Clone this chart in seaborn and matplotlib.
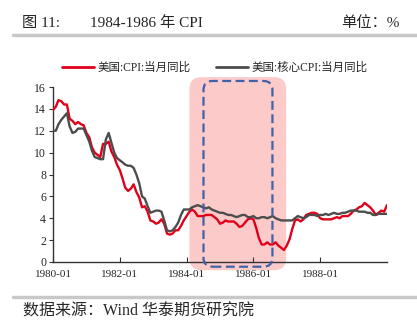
import numpy as np
import pandas as pd
import matplotlib
matplotlib.use('Agg')
import matplotlib.pyplot as plt
import matplotlib.dates as mdates
import seaborn as sns
from matplotlib.patches import FancyBboxPatch
from matplotlib.lines import Line2D
from matplotlib.transforms import IdentityTransform

sns.set_theme(style='white')
plt.rcParams['font.family'] = ['Liberation Serif', 'Noto Sans CJK SC', 'DejaVu Sans']

# ---------------- data ----------------
start_month = '1980-01'
series_names = ['美国:CPI:当月同比', '美国:核心CPI:当月同比']
cpi = [13.9, 14.2, 14.8, 14.7, 14.4, 14.4, 13.1, 12.9, 12.6, 12.8, 12.6, 12.5,
       11.8, 11.4, 10.5, 10.0, 9.8, 9.6, 10.8, 10.8, 11.0, 10.1, 9.6, 8.9,
       8.4, 7.6, 6.8, 6.5, 6.7, 7.1, 6.4, 5.9, 5.0, 5.1, 4.6, 3.8,
       3.7, 3.5, 3.6, 3.9, 3.5, 2.6, 2.5, 2.6, 2.9, 2.9, 3.3, 3.8,
       4.2, 4.6, 4.8, 4.6, 4.2, 4.2, 4.2, 4.3, 4.3, 4.3, 4.1, 3.9,
       3.5, 3.6, 3.8, 3.7, 3.7, 3.7, 3.5, 3.2, 3.3, 3.6, 3.9, 4.0,
       3.9, 3.1, 2.2, 1.6, 1.6, 1.8, 1.6, 1.6, 1.8, 1.5, 1.3, 1.1,
       1.5, 2.1, 3.0, 3.8, 3.9, 3.7, 3.9, 4.3, 4.4, 4.5, 4.5, 4.4,
       4.0, 3.9, 3.9, 3.9, 3.9, 4.0, 4.1, 4.0, 4.2, 4.2, 4.2, 4.4,
       4.7, 4.8, 5.0, 5.1, 5.4, 5.2, 5.0, 4.7, 4.3, 4.5, 4.7, 4.6,
       5.2]
core = [12.0, 12.0, 12.6, 13.0, 13.3, 13.6, 12.4, 11.8, 11.9, 12.2, 12.2, 12.2,
        11.6, 11.0, 10.2, 9.6, 9.5, 9.4, 9.4, 11.2, 11.8, 10.9, 10.0, 9.5,
        9.3, 9.1, 8.9, 8.8, 8.8, 8.6, 8.0, 7.2, 6.0, 5.8, 5.1, 4.5,
        4.6, 4.7, 4.7, 4.6, 3.8, 2.9, 2.8, 2.9, 3.2, 3.6, 4.3, 4.8,
        4.8, 4.8, 5.0, 5.1, 5.2, 5.1, 5.0, 4.9, 5.0, 4.8, 4.7, 4.6,
        4.5, 4.5, 4.4, 4.3, 4.3, 4.2, 4.1, 4.2, 4.3, 4.3, 4.1, 4.1,
        4.2, 4.0, 4.0, 4.1, 4.1, 4.0, 4.1, 4.2, 4.0, 3.9, 3.8, 3.8,
        3.8, 3.8, 3.8, 4.0, 4.2, 4.1, 4.0, 4.1, 4.3, 4.3, 4.3, 4.2,
        4.3, 4.3, 4.4, 4.3, 4.4, 4.5, 4.4, 4.4, 4.5, 4.5, 4.6, 4.7,
        4.7, 4.7, 4.6, 4.6, 4.6, 4.5, 4.5, 4.3, 4.3, 4.4, 4.4, 4.4,
        4.4]
x_tick_labels = ['1980-01', '1982-01', '1984-01', '1986-01', '1988-01']
y_ticks = [0, 2, 4, 6, 8, 10, 12, 14, 16]
highlight_span = ('1984-02-01', '1986-12-25')
dashed_span = ('1984-07-04', '1986-07-28')

colors = ['#E0001A', '#4D4D4D']

# ---------------- frame ----------------
W, H = 417, 327
fig = plt.figure(figsize=(W / 100, H / 100), dpi=100)
fig.patch.set_facecolor('white')
ax = fig.add_axes([53 / W, 1 - 262 / H, (387 - 53) / W, (262 - 87) / H])
ax.set_facecolor('none')

n = len(cpi)
dates = pd.date_range(start_month, periods=n, freq='MS')
df = pd.DataFrame({
    'date': list(dates) + list(dates),
    'value': cpi + core,
    'series': [series_names[0]] * n + [series_names[1]] * n,
})
sns.lineplot(data=df, x='date', y='value', hue='series', hue_order=series_names,
             palette=colors, linewidth=1.7, legend=False, ax=ax, zorder=3)

ax.set_xlim(dates[0], dates[-1])
ax.set_ylim(0, 16)
ax.set_yticks(y_ticks)
ax.set_yticklabels([str(v) for v in y_ticks])
ax.set_xticks([pd.Timestamp(t) for t in x_tick_labels])
ax.set_xticklabels(x_tick_labels)
ax.set_xlabel('')
ax.set_ylabel('')
for s in ['top', 'right']:
    ax.spines[s].set_visible(False)
for s in ['left', 'bottom']:
    ax.spines[s].set_color('#333333')
    ax.spines[s].set_linewidth(1.0)
ax.tick_params(axis='y', direction='out', length=3, width=0.8, color='#333333',
               labelsize=8.5, pad=2, left=True)
ax.tick_params(axis='x', direction='in', length=3.5, width=0.8, color='#333333',
               labelsize=8, pad=6, bottom=True)
ax.grid(False)

# ---------------- highlight boxes (display coords) ----------------
def box(span, y0, y1, radius, **kw):
    xa = mdates.date2num(pd.Timestamp(span[0]))
    xb = mdates.date2num(pd.Timestamp(span[1]))
    p0 = ax.transData.transform((xa, y0))
    p1 = ax.transData.transform((xb, y1))
    patch = FancyBboxPatch((p0[0], p0[1]), p1[0] - p0[0], p1[1] - p0[1],
                           boxstyle=f'round,pad=0,rounding_size={radius}',
                           transform=IdentityTransform(), **kw)
    fig.add_artist(patch)
    return patch

box(highlight_span, -0.75, 16.9, 12, facecolor='#FDCACA', edgecolor='none', zorder=-1)
box(dashed_span, -0.43, 16.55, 9, facecolor='none', edgecolor='#3F62A8',
    linewidth=1.6, linestyle=(0, (4, 2)), zorder=5)

# ---------------- legend ----------------
handles = [Line2D([], [], color=c, lw=2) for c in colors]
fig.legend(handles=handles, labels=series_names, loc='center',
           bbox_to_anchor=(215 / W, 1 - 68 / H), ncol=2, frameon=False,
           fontsize=8.3, handlelength=2.8, handletextpad=0.3, columnspacing=2.2)

# ---------------- header / footer ----------------
fig.text(22 / W, 1 - 23 / H, '图 11:', fontsize=11, va='center', ha='left')
fig.text(90 / W, 1 - 23 / H, '1984-1986 年 CPI', fontsize=11, va='center', ha='left')
fig.text(400 / W, 1 - 23 / H, '单位：%', fontsize=11, va='center', ha='right')
fig.add_artist(Line2D([13 / W, 1.0], [1 - 35 / H] * 2, color='#C8C8C8', lw=2.5))
fig.add_artist(Line2D([13 / W, 1.0], [1 - 297 / H] * 2, color='#C8C8C8', lw=2.5))
fig.text(23 / W, 1 - 312 / H, '数据来源：Wind 华泰期货研究院', fontsize=11.5,
         va='center', ha='left')

fig.savefig('out.png', dpi=100)
